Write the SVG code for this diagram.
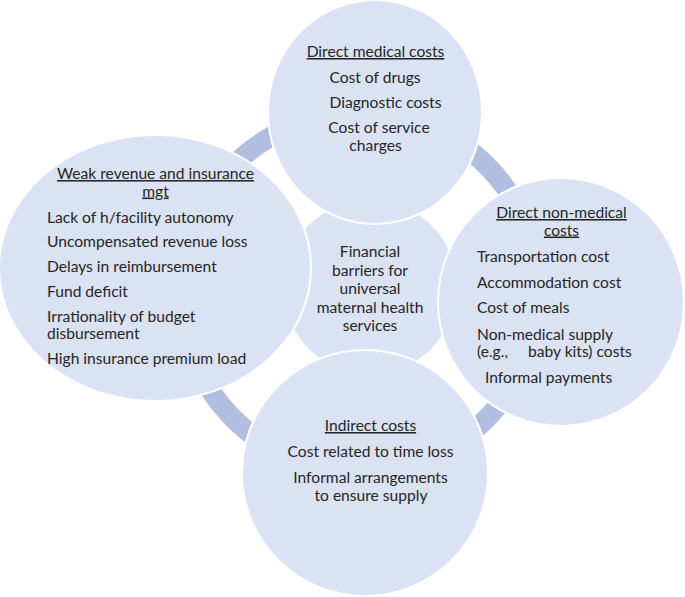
<svg xmlns="http://www.w3.org/2000/svg" width="685" height="597" viewBox="0 0 685 597">
<style>
.node{fill:#DAE2F3;stroke:#FFFFFF;stroke-width:2}
.hub{fill:#DAE2F3}
.ring{fill:none;stroke:#B1BEE0;stroke-width:20}
text{font-family:Lato,"Open Sans","Liberation Sans",sans-serif;font-size:15.6px;fill:#262626}
.c{text-anchor:middle}
.u{text-decoration:underline}
</style>
<rect width="685" height="597" fill="#FFFFFF"/>
<g id="connectors">
<circle class="ring" cx="360" cy="292" r="179"/>
</g>
<g id="hub">
<circle class="hub" cx="370" cy="287" r="87"/>
<text class="c" x="370" y="257">Financial</text>
<text class="c" x="370" y="275.5">barriers for</text>
<text class="c" x="370" y="294">universal</text>
<text class="c" x="370" y="312.5">maternal health</text>
<text class="c" x="370" y="331">services</text>
</g>
<g id="direct-medical">
<ellipse class="node" cx="375" cy="112" rx="107" ry="112"/>
<text class="c u" x="375.5" y="57">Direct medical costs</text>
<text class="c" x="375" y="83">Cost of drugs</text>
<text class="c" x="385.5" y="108">Diagnostic costs</text>
<text class="c" x="379" y="133">Cost of service</text>
<text class="c" x="375.5" y="150.5">charges</text>
</g>
<g id="weak-revenue">
<ellipse class="node" cx="155" cy="268" rx="156" ry="133"/>
<text class="c u" x="155.5" y="179">Weak revenue and insurance</text>
<text class="c u" x="155.5" y="196.5">mgt</text>
<text x="47" y="222.5">Lack of h/facility autonomy</text>
<text x="47" y="247">Uncompensated revenue loss</text>
<text x="47" y="272">Delays in reimbursement</text>
<text x="47" y="297">Fund deficit</text>
<text x="47" y="322">Irrationality of budget</text>
<text x="47" y="339">disbursement</text>
<text x="47" y="364">High insurance premium load</text>
</g>
<g id="direct-non-medical">
<ellipse class="node" cx="561" cy="302" rx="123" ry="124"/>
<text class="c u" x="561.5" y="218">Direct non-medical</text>
<text class="c u" x="561.5" y="235.5">costs</text>
<text x="477" y="262">Transportation cost</text>
<text x="477" y="288">Accommodation cost</text>
<text x="477" y="313">Cost of meals</text>
<text x="477" y="339.5">Non-medical supply</text>
<text x="477" y="357">(e.g.,<tspan x="528">baby kits) costs</tspan></text>
<text x="485" y="383">Informal payments</text>
</g>
<g id="indirect">
<circle class="node" cx="365" cy="473" r="123"/>
<text class="c u" x="370.5" y="431">Indirect costs</text>
<text class="c" x="370.5" y="457">Cost related to time loss</text>
<text class="c" x="370.5" y="483">Informal arrangements</text>
<text class="c" x="371" y="500.5">to ensure supply</text>
</g>
</svg>
